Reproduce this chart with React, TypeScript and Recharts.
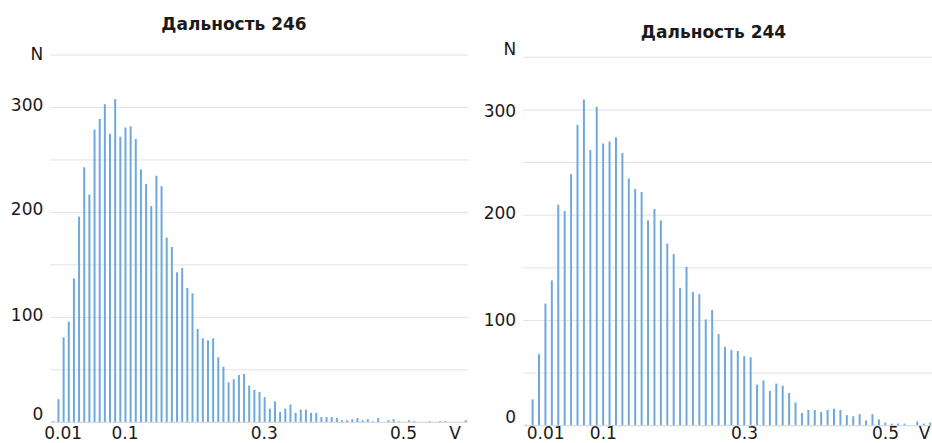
import React from "react";
import { BarChart, Bar, XAxis, YAxis, CartesianGrid } from "recharts";

// counts per bin
const counts246 = [
  1, 22, 81, 96, 137, 196, 243, 217, 279, 289, 303, 275, 308, 272, 281, 282, 270, 241, 227, 206,
  235, 225, 176, 167, 143, 147, 128, 123, 89, 80, 78, 80, 62, 53, 38, 41, 45, 46, 35, 31,
  29, 24, 13, 20, 10, 13, 17, 9, 12, 12, 9, 9, 5, 5, 5, 4, 2, 2, 3, 4,
  2, 3, 1, 4, 0, 2, 3, 1, 0, 2, 1, 0, 0, 1, 0, 1, 1, 0, 0, 0,
  2,
];
const counts244 = [
  1, 25, 68, 116, 138, 210, 204, 239, 286, 310, 262, 303, 268, 270, 274, 259, 235, 225, 222, 195,
  206, 195, 173, 163, 131, 151, 127, 125, 101, 110, 87, 75, 72, 71, 66, 65, 39, 43, 33, 40,
  38, 31, 22, 12, 15, 15, 13, 15, 16, 15, 10, 9, 11, 5, 11, 6, 3, 2, 2, 2,
  0, 4, 2, 3,
];

const xTickLabels = ["0.01", "0.1", "0.3", "0.5", "V"];
const xTickBins246 = [2, 14, 41, 68, 78];
const xTickBins244 = [3, 12, 34, 56, 63];

const yTicks = [0, 50, 100, 150, 200, 250, 300, 350];
const yTickLabels: Record<number, string> = { 0: "0", 100: "100", 200: "200", 300: "300", 350: "N" };

const FONT = "'DejaVu Sans', sans-serif";
const TEXT = "#1a1a1a";

type PanelProps = {
  title: string;
  counts: number[];
  tickBins: number[];
  left: number;
  width: number;
  plotLeft: number;
  plotWidth: number;
  plotTop: number;
  plotBottom: number;
  titleX: number;
  titleY: number;
  yShift: Record<number, number>;
  xLabelDy: number;
  lastAnchor: "middle" | "end";
};

function Panel(p: PanelProps) {
  const data = p.counts.map((n, i) => ({ bin: i, n }));
  const labelAt: Record<number, string> = {};
  p.tickBins.forEach((b, k) => (labelAt[b] = xTickLabels[k]));
  const lastBin = p.tickBins[p.tickBins.length - 1];
  const H = 443;

  const XTick = (props: any) => {
    const v = props.payload.value;
    const lab = labelAt[v];
    if (!lab) return null;
    return (
      <text
        x={props.x}
        y={props.y}
        dy={p.xLabelDy}
        textAnchor={v === lastBin ? p.lastAnchor : "middle"}
        fontSize={17}
        fontFamily={FONT}
        fill={TEXT}
      >
        {lab}
      </text>
    );
  };
  const YTick = (props: any) => {
    const v = props.payload.value;
    const lab = yTickLabels[v];
    if (!lab) return null;
    return (
      <text x={props.x} y={props.y} dy={6.2 + (p.yShift[v] ?? -3)} textAnchor="end" fontSize={17} fontFamily={FONT} fill={TEXT}>
        {lab}
      </text>
    );
  };

  return (
    <div style={{ position: "absolute", left: p.left, top: 0, width: p.width, height: H }}>
      <div
        style={{
          position: "absolute",
          left: p.titleX - p.left - 150,
          width: 300,
          top: p.titleY - 11,
          textAlign: "center",
          fontFamily: FONT,
          fontSize: 17,
          fontWeight: "bold",
          color: TEXT,
          lineHeight: "22px",
        }}
      >
        {p.title}
      </div>
      <BarChart
        width={p.width}
        height={H}
        data={data}
        margin={{ top: p.plotTop, left: 0, right: p.width - p.plotLeft - p.plotWidth, bottom: 0 }}
      >
        <CartesianGrid vertical={false} stroke="#e2e2e2" />
        <XAxis
          dataKey="bin"
          height={H - p.plotBottom}
          interval={0}
          tickLine={false}
          tickSize={0}
          tickMargin={0}
          axisLine={{ stroke: "#d9d9d9" }}
          tick={XTick}
        />
        <YAxis
          width={p.plotLeft}
          domain={[0, 350]}
          ticks={yTicks}
          axisLine={false}
          tickLine={false}
          tickSize={0}
          tickMargin={7}
          tick={YTick}
        />
        <Bar dataKey="n" fill="#6fa8dc" barSize={2} isAnimationActive={false} />
      </BarChart>
    </div>
  );
}

export default function App() {
  return (
    <div style={{ position: "absolute", left: 0, top: 0, width: 932, height: 443, overflow: "hidden", background: "#fff" }}>
      <Panel
        title="Дальность 246"
        counts={counts246}
        tickBins={xTickBins246}
        left={0}
        width={470}
        plotLeft={50.3}
        plotWidth={417.6}
        plotTop={55}
        plotBottom={422.3}
        titleX={234}
        titleY={24}
        yShift={{ 0: -9, 100: -3, 200: -4, 300: -2.3, 350: -1.7 }}
        xLabelDy={16.5}
        lastAnchor="middle"
      />
      <Panel
        title="Дальность 244"
        counts={counts244}
        tickBins={xTickBins244}
        left={470}
        width={470}
        plotLeft={53.2}
        plotWidth={410.4}
        plotTop={57.3}
        plotBottom={425.7}
        titleX={713.5}
        titleY={31.7}
        yShift={{ 0: -9, 100: -0.7, 200: -2.3, 300: 0.7, 350: -9 }}
        xLabelDy={13.3}
        lastAnchor="end"
      />
    </div>
  );
}
